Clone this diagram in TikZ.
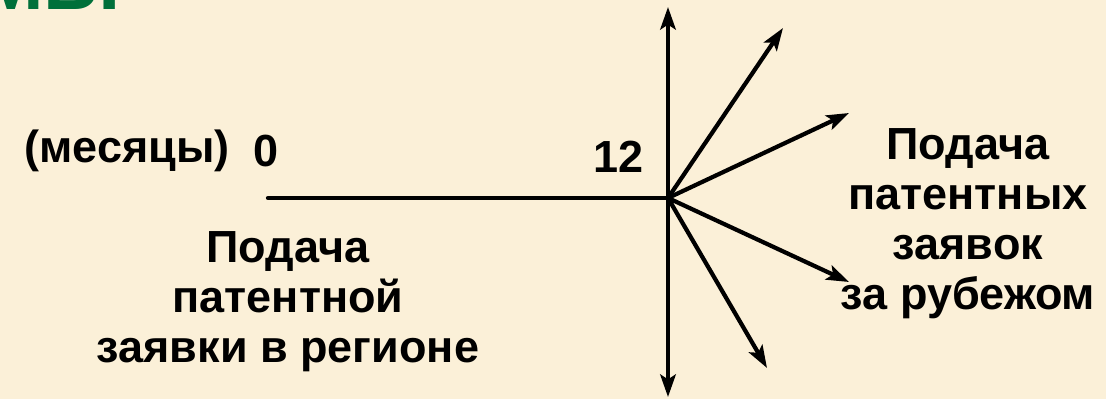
\documentclass[tikz,border=0pt]{standalone}
\usepackage{fontspec}
\setmainfont{Liberation Sans}
\usepackage{xcolor}
\usetikzlibrary{arrows.meta,positioning}
\definecolor{paper}{HTML}{FBF0D8}
\definecolor{titlegreen}{HTML}{00703A}

\begin{document}
\begin{tikzpicture}[x=0.025cm,y=-0.025cm,
  lbl/.style={font=\fontsize{32}{35.5}\selectfont\bfseries,align=center,inner sep=0pt},
  ray/.style={line width=3pt,line cap=round},
  >={Stealth[length=16pt,width=11pt,inset=3.5pt]}]
  % 1 unit = 1 px of the slide, y runs downwards
  \fill[paper] (0,0) rectangle (1106,399);
  \useasboundingbox (0,0) rectangle (1106,399);
  \begin{scope}
    \clip (0,0) rectangle (1106,399);
    \node[font=\fontsize{56}{60}\selectfont\bfseries,text=titlegreen,anchor=base west,inner sep=0pt] (title) at (-22,10) {МЫ};
  \end{scope}
  % time axis
  \coordinate (o) at (668,198);
  \coordinate (t0) at (268,198);
  \coordinate (up) at (668,7);
  \coordinate (down) at (668,397);
  \draw[ray] (t0) -- (o);
  \draw[ray,<->] (up) -- (down);
  % fan of foreign filings
  \foreach \n/\p in {f1/{783,28},f2/{849,113},f3/{849,282},f4/{767,368}} {
    \coordinate (\n) at (\p);
    \draw[ray,->] (o) -- (\n);
  }
  \node[lbl,anchor=base east] (unit) at (230,163) {(месяцы)};
  \node[lbl,anchor=base] (zero) at (266,167) {0};
  \node[lbl,anchor=base] (twelve) at (619,173) {12};
  \node[lbl] (home) at (288,302) {Подача\\патентной\\заявки в регионе};
  \node[lbl] (abroad) at (968,224) {Подача\\патентных\\заявок\\за рубежом};
\end{tikzpicture}
\end{document}
